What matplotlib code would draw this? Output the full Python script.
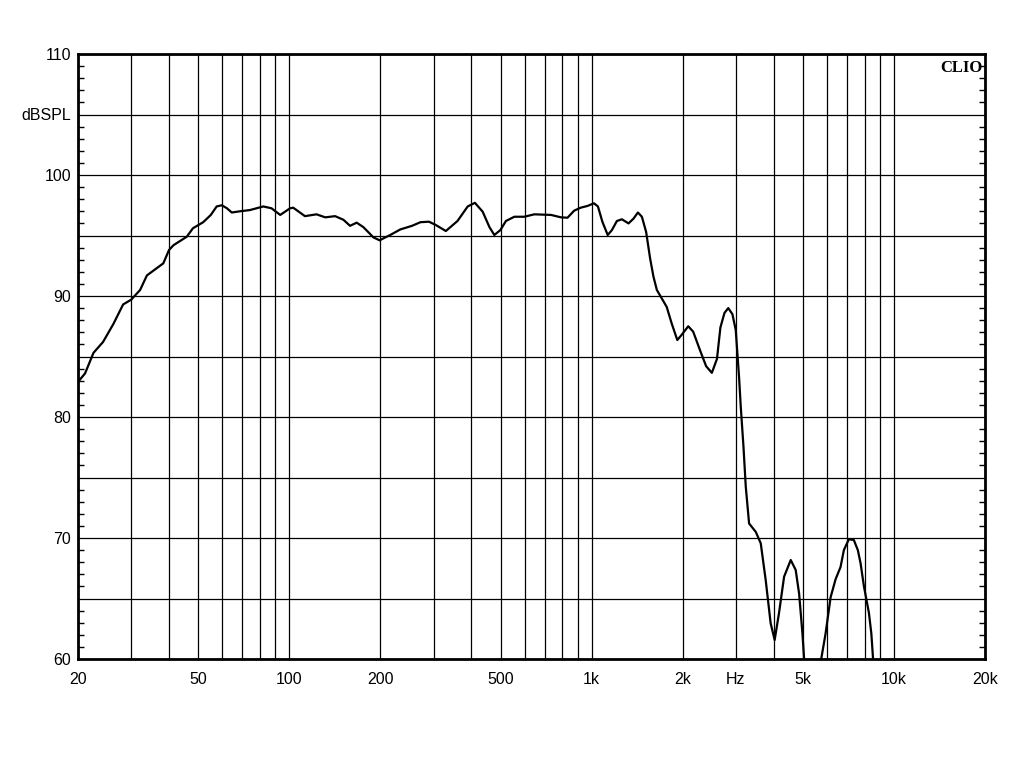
import matplotlib
matplotlib.use("Agg")
import matplotlib.pyplot as plt
from matplotlib.ticker import FixedLocator, NullFormatter

# frequency response (Hz, dB SPL)
freq_hz = [
    20, 21.1, 22.5, 24.2, 26.2, 28.2, 30, 32.1, 33.8, 36.9, 38.3, 40, 41.4, 45.8, 48,
    51.9, 55, 57.5, 59.8, 62.2, 64.5, 68.6, 74, 82, 87.3, 93.3, 100.6, 103, 112.6, 123,
    131.5, 141.7, 151, 158.8, 167, 175.6, 183.8, 189.5, 199, 205, 215.6, 232.8, 254.6,
    271.5, 289.7, 305, 329.4, 360, 389, 411, 436, 459, 476.5, 499, 520.6, 555, 599, 646,
    734, 792, 832, 875, 920, 968, 1018, 1049, 1085, 1130, 1167, 1212, 1259, 1324, 1376,
    1422, 1466, 1514, 1561, 1601, 1643, 1706, 1771, 1839, 1920, 1986, 2087, 2167, 2284,
    2391, 2498, 2597, 2666, 2750, 2830, 2921, 2996, 3073, 3113, 3178, 3234, 3317, 3491,
    3625, 3765, 3909, 4030, 4166, 4330, 4555, 4730, 4855, 4980, 5043, 5200, 5600, 5745,
    5939, 6171, 6411, 6656, 6827, 7093, 7366, 7593, 7754, 7955, 8263, 8416, 8527, 8700,
]
spl_db = [
    82.9, 83.6, 85.3, 86.2, 87.7, 89.3, 89.7, 90.5, 91.7, 92.4, 92.7, 93.8, 94.2, 94.9, 95.6,
    96.1, 96.7, 97.4, 97.5, 97.25, 96.9, 97.0, 97.1, 97.4, 97.25, 96.7, 97.25, 97.3, 96.6, 96.75,
    96.5, 96.6, 96.3, 95.8, 96.06, 95.7, 95.2, 94.85, 94.6, 94.77, 95.04, 95.5, 95.8,
    96.1, 96.14, 95.87, 95.37, 96.2, 97.4, 97.7, 96.97, 95.7, 95.04, 95.45, 96.2, 96.55, 96.55, 96.75,
    96.7, 96.5, 96.47, 97.05, 97.3, 97.44, 97.66, 97.4, 96.14, 95.04, 95.45, 96.2, 96.34, 96.0, 96.4,
    96.9, 96.55, 95.3, 93.1, 91.6, 90.5, 89.8, 89.1, 87.74, 86.36, 86.8, 87.5, 87.05, 85.5,
    84.2, 83.65, 84.8, 87.4, 88.6, 89.0, 88.5, 87.2, 83.3, 80.85, 77.55, 74.24, 71.2, 70.5,
    69.56, 66.5, 62.95, 61.57, 63.8, 66.8, 68.18, 67.36, 65.4, 62.1, 60.0, 57.0, 57.0, 60.0,
    62.1, 65.1, 66.6, 67.6, 69.0, 69.9, 69.83, 69.0, 67.9, 66.0, 63.8, 62.1, 60.0, 57.0,
]

x_label_pos = [20, 50, 100, 200, 500, 1000, 2000, 3000, 5000, 10000, 20000]
x_labels = ["20", "50", "100", "200", "500", "1k", "2k", "Hz", "5k", "10k", "20k"]
x_grid = ([30, 40, 60, 70, 80, 90] + [300, 400, 600, 700, 800, 900]
          + [4000, 6000, 7000, 8000, 9000])
y_major = list(range(60, 111, 5))
y_labels = ["60", "", "70", "", "80", "", "90", "", "100", "dBSPL", "110"]

plt.rcParams["font.family"] = ["Liberation Sans", "DejaVu Sans"]

fig = plt.figure(figsize=(10.24, 7.68), dpi=100)
ax = fig.add_axes([78 / 1024, 1 - 659 / 768, 907 / 1024, 605 / 768])

ax.plot(freq_hz, spl_db, color="black", lw=1.6, zorder=3)

ax.set_xscale("log")
ax.set_xlim(20, 20000)
ax.set_ylim(60, 110)

ax.xaxis.set_major_locator(FixedLocator(x_label_pos))
ax.xaxis.set_minor_locator(FixedLocator(x_grid))
ax.set_xticklabels(x_labels)
ax.xaxis.set_minor_formatter(NullFormatter())
ax.tick_params(axis="x", which="both", length=0, pad=9, labelsize=11.5)

ax.set_yticks(y_major)
ax.set_yticklabels(y_labels)
ax.yaxis.set_minor_locator(FixedLocator(list(range(60, 111))))
ax.tick_params(axis="y", which="major", length=0, pad=5, labelsize=11.5)
ax.tick_params(axis="y", which="minor", direction="in", length=4, width=1,
               left=True, right=True)

ax.grid(True, which="both", axis="x", color="black", lw=0.9)
ax.grid(True, which="major", axis="y", color="black", lw=0.9)

for side in ["left", "right", "top", "bottom"]:
    ax.spines[side].set_linewidth(2)

ax.text(0.997, 0.99, "CLIO", transform=ax.transAxes, ha="right", va="top",
        fontsize=12, fontweight="bold", family=["Liberation Serif", "DejaVu Serif"])

fig.savefig("out.png", dpi=100)
